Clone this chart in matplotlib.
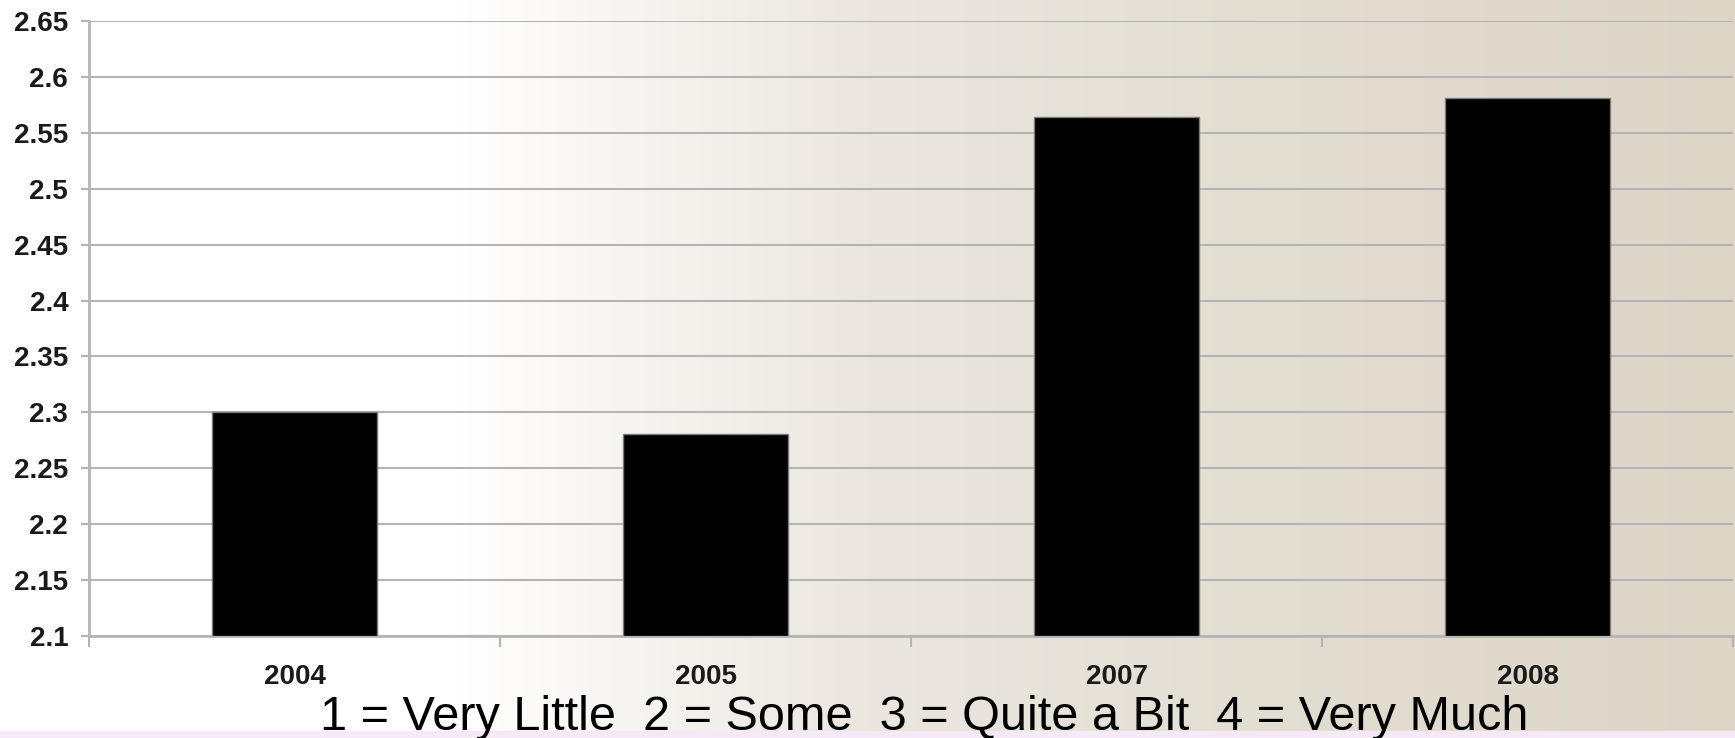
import numpy as np
import matplotlib
matplotlib.use("Agg")
import matplotlib.pyplot as plt
from matplotlib.colors import LinearSegmentedColormap

years = ["2004", "2005", "2007", "2008"]
scores = [2.30, 2.281, 2.564, 2.581]
y_ticks = [2.1, 2.15, 2.2, 2.25, 2.3, 2.35, 2.4, 2.45, 2.5, 2.55, 2.6, 2.65]
scale_note = "1 = Very Little  2 = Some  3 = Quite a Bit  4 = Very Much"

fig = plt.figure(figsize=(17.35, 7.38), dpi=100)

# background: white on the left fading into beige
bg = fig.add_axes([0, 0, 1, 1], zorder=-10)
cmap = LinearSegmentedColormap.from_list(
    "bg", [(0, "#ffffff"), (0.26, "#ffffff"), (0.5, "#ebe7df"), (0.75, "#e2ddd1"), (1, "#ddd6c7")])
grad = np.linspace(0, 1, 512).reshape(1, -1)
bg.imshow(grad, cmap=cmap, aspect="auto", extent=[0, 1, 0, 1])
# faint lavender strip at the bottom
bg.axhspan(0, 0.01, color="#f4e9f4")
bg.set_xlim(0, 1)
bg.set_ylim(0, 1)
bg.axis("off")

ax = fig.add_axes([89 / 1735, 102 / 738, 1644 / 1735, 615 / 738])
ax.set_facecolor("none")
x = np.arange(len(years))
ax.bar(x, [s - 2.1 for s in scores], bottom=2.1, width=0.4, color="black",
       edgecolor="#7a7a7a", linewidth=1, zorder=3)

ax.set_xlim(-0.5, len(years) - 0.5)
ax.set_ylim(2.1, 2.65)
ax.set_yticks(y_ticks)
ax.set_yticklabels(["%g" % t for t in y_ticks])
ax.yaxis.grid(True, color="#b4b4b4", linewidth=1.5, zorder=0)
ax.set_axisbelow(True)

ax.set_xticks(x)
ax.set_xticklabels(years)
ax.set_xticks(np.arange(-0.5, len(years)), minor=True)
ax.tick_params(axis="x", which="major", length=0, pad=20)
ax.tick_params(axis="x", which="minor", length=8, width=1.5, color="#b4b4b4")
ax.tick_params(axis="y", length=6, width=1.5, color="#b4b4b4", pad=9)

for lab in ax.get_xticklabels() + ax.get_yticklabels():
    lab.set_fontfamily("Liberation Sans")
    lab.set_fontweight("bold")
    lab.set_fontsize(20)
    lab.set_color("#1a1a1a")

for side in ["top", "right"]:
    ax.spines[side].set_visible(False)
for side in ["left", "bottom"]:
    ax.spines[side].set_color("#b4b4b4")
    ax.spines[side].set_linewidth(2)

fig.text(924 / 1735, 1 - 718 / 738, scale_note, ha="center", va="center",
         fontsize=35, family="Liberation Sans", color="black")

fig.savefig("out.png", dpi=100)
